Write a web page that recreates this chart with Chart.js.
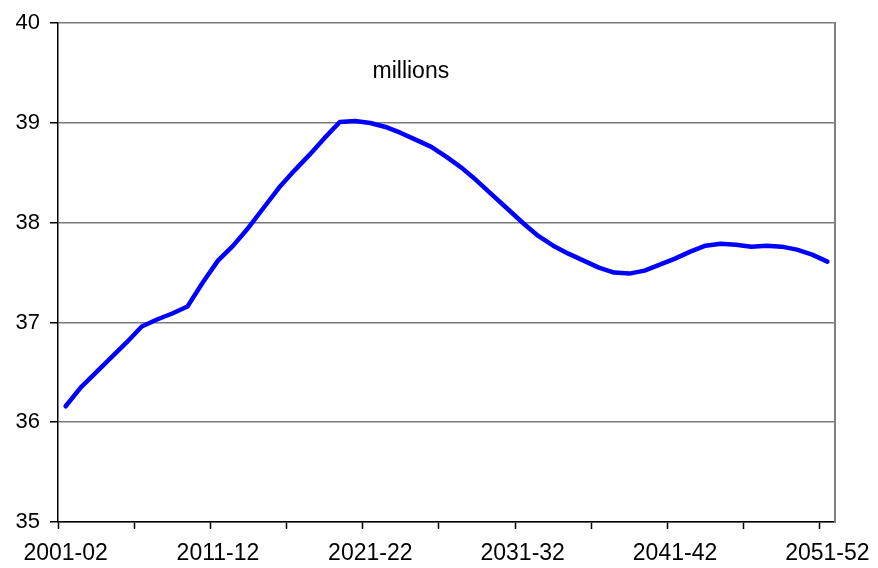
<!DOCTYPE html>
<html>
<head>
<meta charset="utf-8">
<script src="https://cdn.jsdelivr.net/npm/chart.js@4"></script>
<style>
  html, body { margin: 0; padding: 0; background: #ffffff; }
  #wrap { width: 878px; height: 568px; }
</style>
</head>
<body>
<div id="wrap"><canvas id="chart" width="878" height="568"></canvas></div>
<script>
// Financial years shown along the bottom axis
const years = [];
for (let y = 2001; y <= 2051; y++) {
  years.push(y + '-' + String((y + 1) % 100).padStart(2, '0'));
}

// Population, millions
const population = [
  36.16, 36.35, 36.50, 36.65, 36.80, 36.96, 37.03, 37.09, 37.16, 37.40,
  37.62, 37.77, 37.95, 38.15, 38.35, 38.52, 38.68, 38.85, 39.01, 39.02,
  39.00, 38.96, 38.90, 38.83, 38.76, 38.66, 38.55, 38.42, 38.28, 38.14,
  38.00, 37.87, 37.77, 37.69, 37.62, 37.55, 37.50, 37.49, 37.52, 37.58,
  37.64, 37.71, 37.77, 37.79, 37.78, 37.76, 37.77, 37.76, 37.73, 37.68,
  37.61
];

// Value-axis ticks
const yTicks = [35, 36, 37, 38, 39, 40];

const unitNote = 'millions';
const FONT = '"Liberation Sans", Arial, sans-serif';

// Writes the unit note inside the plot, placed through the scales
const unitNotePlugin = {
  id: 'unitNote',
  afterDraw(chart) {
    const { ctx, scales } = chart;
    const x = scales.x.getPixelForValue(22.66);
    const y = scales.y.getPixelForValue(39.51);
    ctx.save();
    ctx.font = '23px ' + FONT;
    ctx.fillStyle = '#000000';
    ctx.textAlign = 'center';
    ctx.textBaseline = 'middle';
    ctx.fillText(unitNote, x, y);
    ctx.restore();
  }
};

new Chart(document.getElementById('chart'), {
  type: 'line',
  data: {
    labels: years,
    datasets: [{
      data: population,
      borderColor: '#0000ff',
      borderWidth: 4.5,
      pointRadius: 0,
      tension: 0,
      borderCapStyle: 'round',
      borderJoinStyle: 'round',
      fill: false
    }]
  },
  options: {
    responsive: false,
    animation: false,
    events: [],
    layout: { padding: { left: 0, top: 21, right: 43, bottom: 0 } },
    plugins: {
      legend: { display: false },
      tooltip: { enabled: false },
      title: { display: false }
    },
    scales: {
      x: {
        type: 'category',
        offset: true,
        grid: {
          offset: true,
          drawOnChartArea: false,
          tickLength: 7,
          tickWidth: 1.5,
          tickColor: (c) => (c.index !== undefined && c.index % 5 === 0) ? '#000000' : 'rgba(0,0,0,0)'
        },
        border: { color: '#000000', width: 1.5 },
        ticks: {
          autoSkip: false,
          maxRotation: 0,
          minRotation: 0,
          padding: 11,
          color: '#000000',
          font: { family: FONT, size: 23 },
          callback: (v, i) => (i % 10 === 0 ? years[i] : '')
        },
        afterFit: (s) => {
          s.height = 46;
          s.paddingLeft = 0;
          s.paddingRight = 0;
        }
      },
      y: {
        min: 35,
        max: 40,
        afterBuildTicks: (s) => { s.ticks = yTicks.map(v => ({ value: v })); },
        grid: {
          color: '#7a7a7a',
          lineWidth: 1.5,
          tickLength: 8,
          tickColor: '#000000'
        },
        border: { color: '#000000', width: 1.5 },
        ticks: {
          padding: 10,
          color: '#000000',
          font: { family: FONT, size: 22 }
        },
        afterFit: (s) => { s.width = 58; }
      },
      yRight: {
        position: 'right',
        min: 35,
        max: 40,
        ticks: { display: false },
        grid: { drawOnChartArea: false, drawTicks: false },
        border: { color: '#808080', width: 2 },
        afterFit: (s) => { s.width = 0; }
      }
    }
  },
  plugins: [unitNotePlugin]
});
</script>
</body>
</html>
